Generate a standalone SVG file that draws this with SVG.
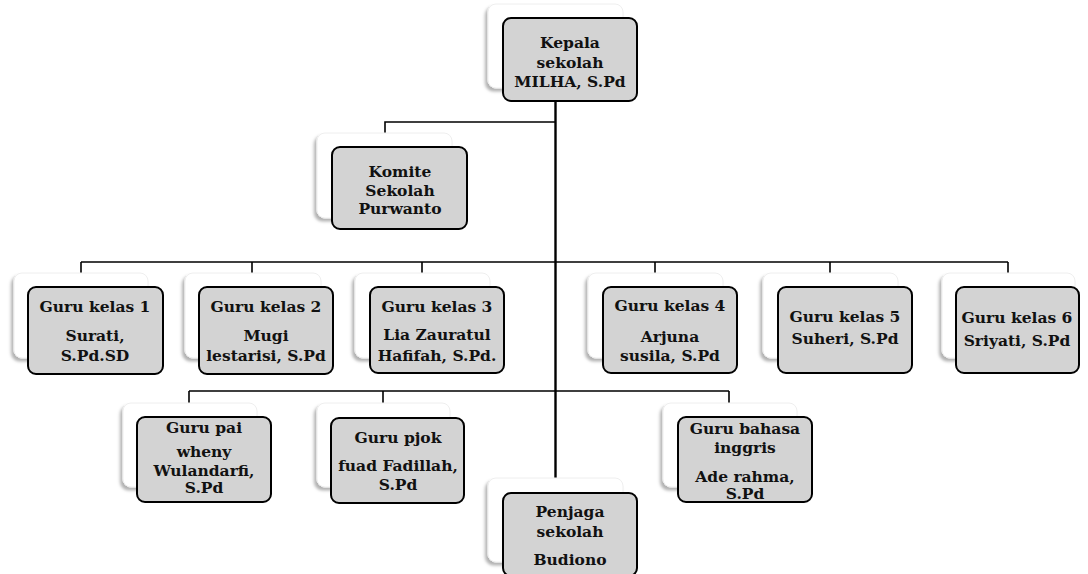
<svg xmlns="http://www.w3.org/2000/svg" width="1088" height="574" viewBox="0 0 1088 574">
<defs>
<filter id="sh" x="-10%" y="-10%" width="120%" height="125%">
<feDropShadow dx="-2.5" dy="3" stdDeviation="1.6" flood-color="#000" flood-opacity="0.3"/>
</filter>
</defs>
<style>
.back{fill:#fff;stroke:#eeeeee;stroke-width:1;filter:url(#sh)}
.front{fill:#d3d3d3;stroke:#000;stroke-width:2}
.t{font-family:"DejaVu Serif","Liberation Serif",serif;font-weight:bold;font-size:15.5px;fill:#111;text-anchor:middle}
.c{fill:none;stroke:#000;stroke-width:1.6}
.m{fill:none;stroke:#000;stroke-width:2.4}
</style>
<rect width="1088" height="574" fill="#fff"/>
<g id="connectors">
<path class="m" d="M555.5 100 V478"/>
<path class="c" d="M555.5 122 H385 V133"/>
<path class="c" d="M81 262 H1008 M81 262 V273 M252 262 V273 M422 262 V273 M655 262 V273 M830 262 V273 M1008 262 V273"/>
<path class="c" d="M189 391 H729 M189 391 V403 M383 391 V403 M729 391 V403"/>
</g>
<g id="kepala">
<rect class="back" x="488" y="4" width="135" height="84" rx="8"/>
<rect class="front" x="503" y="18" width="134" height="83" rx="8"/>
<text class="t" x="570" y="48">Kepala</text>
<text class="t" x="570" y="68">sekolah</text>
<text class="t" x="570" y="87">MILHA, S.Pd</text>
</g>
<g id="komite">
<rect class="back" x="317" y="133" width="135" height="85" rx="8"/>
<rect class="front" x="332" y="147" width="135" height="82" rx="8"/>
<text class="t" x="400" y="177">Komite</text>
<text class="t" x="400" y="196">Sekolah</text>
<text class="t" x="400" y="214">Purwanto</text>
</g>
<g id="kelas1">
<rect class="back" x="14" y="273" width="134" height="85" rx="8"/>
<rect class="front" x="28" y="287" width="135" height="87" rx="8"/>
<text class="t" x="95" y="312">Guru kelas 1</text>
<text class="t" x="95" y="341">Surati,</text>
<text class="t" x="95" y="361">S.Pd.SD</text>
</g>
<g id="kelas2">
<rect class="back" x="185" y="273" width="136" height="85" rx="8"/>
<rect class="front" x="199" y="287" width="134" height="87" rx="8"/>
<text class="t" x="266" y="312">Guru kelas 2</text>
<text class="t" x="266" y="341">Mugi</text>
<text class="t" x="266" y="361">lestarisi, S.Pd</text>
</g>
<g id="kelas3">
<rect class="back" x="355" y="273" width="135" height="85" rx="8"/>
<rect class="front" x="370" y="287" width="134" height="86" rx="8"/>
<text class="t" x="437" y="312">Guru kelas 3</text>
<text class="t" x="437" y="340">Lia Zauratul</text>
<text class="t" x="437" y="361">Hafifah, S.Pd.</text>
</g>
<g id="kelas4">
<rect class="back" x="588" y="273" width="135" height="85" rx="8"/>
<rect class="front" x="603" y="287" width="134" height="86" rx="8"/>
<text class="t" x="670" y="311">Guru kelas 4</text>
<text class="t" x="670" y="342">Arjuna</text>
<text class="t" x="670" y="361">susila, S.Pd</text>
</g>
<g id="kelas5">
<rect class="back" x="763" y="273" width="135" height="85" rx="8"/>
<rect class="front" x="778" y="287" width="134" height="86" rx="8"/>
<text class="t" x="845" y="322">Guru kelas 5</text>
<text class="t" x="845" y="344">Suheri, S.Pd</text>
</g>
<g id="kelas6">
<rect class="back" x="942" y="273" width="133" height="85" rx="8"/>
<rect class="front" x="956" y="287" width="123" height="86" rx="8"/>
<text class="t" x="1017" y="323">Guru kelas 6</text>
<text class="t" x="1017" y="346">Sriyati, S.Pd</text>
</g>
<g id="pai">
<rect class="back" x="123" y="403" width="134" height="84" rx="8"/>
<rect class="front" x="137" y="417" width="134" height="85" rx="8"/>
<text class="t" x="204" y="433">Guru pai</text>
<text class="t" x="204" y="457">wheny</text>
<text class="t" x="204" y="476">Wulandarfi,</text>
<text class="t" x="204" y="493">S.Pd</text>
</g>
<g id="pjok">
<rect class="back" x="317" y="403" width="133" height="84" rx="8"/>
<rect class="front" x="331" y="418" width="133" height="85" rx="8"/>
<text class="t" x="398" y="443">Guru pjok</text>
<text class="t" x="398" y="471">fuad Fadillah,</text>
<text class="t" x="398" y="490">S.Pd</text>
</g>
<g id="bahasa">
<rect class="back" x="663" y="403" width="134" height="84" rx="8"/>
<rect class="front" x="678" y="417" width="134" height="85" rx="8"/>
<text class="t" x="745" y="434">Guru bahasa</text>
<text class="t" x="745" y="453">inggris</text>
<text class="t" x="745" y="482">Ade rahma,</text>
<text class="t" x="745" y="499">S.Pd</text>
</g>
<g id="penjaga">
<rect class="back" x="488" y="478" width="135" height="84" rx="8"/>
<rect class="front" x="503" y="493" width="134" height="83" rx="8"/>
<text class="t" x="570" y="517">Penjaga</text>
<text class="t" x="570" y="537">sekolah</text>
<text class="t" x="570" y="565">Budiono</text>
</g>
</svg>
